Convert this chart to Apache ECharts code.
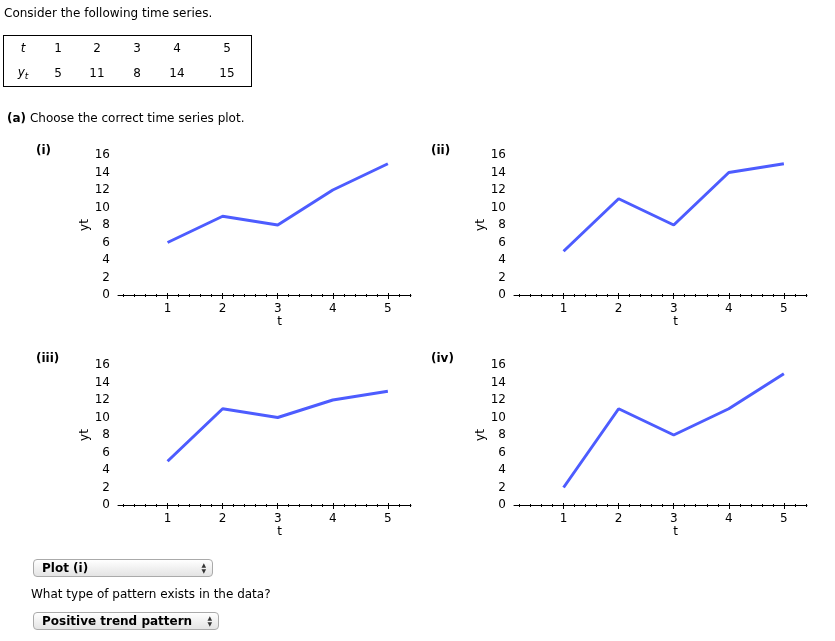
<!DOCTYPE html>
<html>
<head>
<meta charset="utf-8">
<script src="https://cdn.jsdelivr.net/npm/echarts@6/dist/echarts.min.js"></script>
<style>
html,body{margin:0;padding:0;background:#fff;}
body{width:835px;height:641px;position:relative;overflow:hidden;font-family:Verdana,"DejaVu Sans",sans-serif;font-size:12px;color:#000;}
#chart{position:absolute;left:0;top:0;width:835px;height:641px;}
.t{position:absolute;white-space:nowrap;line-height:14px;}
#tbl{position:absolute;left:3px;top:35px;width:247px;height:50px;border:1px solid #000;}
.cell{position:absolute;transform:translate(-50%,-50%);white-space:nowrap;font-size:12px;}
.sel{position:absolute;height:18px;border:1px solid #aaa;border-radius:4px;background:linear-gradient(#ffffff,#f1f1f1 50%,#e4e4e4);box-sizing:border-box;font-weight:bold;font-size:12px;line-height:16px;padding-left:8px;}
.arr{position:absolute;right:6px;top:2px;font-size:6px;line-height:6px;color:#333;}
</style>
</head>
<body>
<div id="chart"></div>
<div class="t" style="left:4px;top:6px;">Consider the following time series.</div>
<div id="tbl"></div>
<div class="t" style="left:7px;top:111px;"><b>(a)</b> Choose the correct time series plot.</div>
<div id="plabels"></div>
<div class="sel" style="left:33px;top:559px;width:180px;">Plot (i)<span class="arr">▲<br>▼</span></div>
<div class="t" style="left:31px;top:587px;">What type of pattern exists in the data?</div>
<div class="sel" style="left:33px;top:612px;width:186px;">Positive trend pattern<span class="arr">▲<br>▼</span></div>
<script>
// ---- data ----
const tValues = [1, 2, 3, 4, 5];
const ytValues = [5, 11, 8, 14, 15];
const plotNames = ['(i)', '(ii)', '(iii)', '(iv)'];
const plotI = [6, 9, 8, 12, 15];
const plotII = [5, 11, 8, 14, 15];
const plotIII = [5, 11, 10, 12, 13];
const plotIV = [2, 11, 8, 11, 15];
const majorTicks = [1, 2, 3, 4, 5];
const minorTicks = [0.2,0.4,0.6,0.8,1.2,1.4,1.6,1.8,2.2,2.4,2.6,2.8,3.2,3.4,3.6,3.8,4.2,4.4,4.6,4.8,5.2,5.4];

// ---- layout ----
const plotSeries = [plotI, plotII, plotIII, plotIV];
const gridLeft = [118, 514, 118, 514];
const gridTop = [155, 155, 365, 365];
const gridW = 293, gridH = 140;
const labelPos = [[36,143],[431,143],[36,351],[431,351]];
const colX = [58, 97, 137, 177, 227];

// table
const tbl = document.getElementById('tbl');
function addCell(html, x, y){
  const d = document.createElement('div');
  d.className = 'cell'; d.innerHTML = html;
  d.style.left = (x-4)+'px'; d.style.top = (y-36)+'px';
  tbl.appendChild(d);
}
addCell('<i>t</i>', 23, 48);
addCell('<i>y<sub style="font-size:9px">t</sub></i>', 23, 73);
tValues.forEach((v,i)=>addCell(String(v), colX[i], 48));
ytValues.forEach((v,i)=>addCell(String(v), colX[i], 73));

// plot labels
const pl = document.getElementById('plabels');
plotNames.forEach((n,i)=>{
  const d = document.createElement('div');
  d.className='t'; d.style.fontWeight='bold';
  d.style.left = labelPos[i][0]+'px'; d.style.top = labelPos[i][1]+'px';
  d.textContent = n; pl.appendChild(d);
});

const font = 'DejaVu Sans';
const grids = [], xAxes = [], yAxes = [], series = [];
plotSeries.forEach((vals, g) => {
  grids.push({left: gridLeft[g], top: gridTop[g], width: gridW, height: gridH, containLabel: false});
  const base = {gridIndex: g, type: 'value', min: 0.1, max: 5.42, position: 'bottom', offset: 0,
    splitLine: {show: false}, axisLine: {show: false, onZero: false}, axisLabel: {show: false}};
  xAxes.push(Object.assign({}, base, {
    axisLine: {show: true, onZero: false, lineStyle: {color: '#000', width: 1}},
    axisTick: {show: true, customValues: minorTicks, length: 2, inside: false, lineStyle: {color: '#000'}},
    axisLabel: {show: true, customValues: majorTicks, margin: 8, color: '#000', fontFamily: font, fontSize: 12},
    name: 't', nameLocation: 'middle', nameGap: 19,
    nameTextStyle: {color: '#000', fontFamily: font, fontSize: 12, padding: [0, 0, 0, 30]}
  }));
  xAxes.push(Object.assign({}, base, {
    axisTick: {show: true, customValues: minorTicks, length: 1, inside: true, lineStyle: {color: '#000'}}
  }));
  xAxes.push(Object.assign({}, base, {
    axisTick: {show: true, customValues: majorTicks, length: 4, inside: false, lineStyle: {color: '#000'}}
  }));
  xAxes.push(Object.assign({}, base, {
    axisTick: {show: true, customValues: majorTicks, length: 2, inside: true, lineStyle: {color: '#000'}}
  }));
  yAxes.push({gridIndex: g, type: 'value', min: 0, max: 16, interval: 2,
    axisLine: {show: false}, axisTick: {show: false}, splitLine: {show: false},
    axisLabel: {color: '#000', fontFamily: font, fontSize: 12, margin: 8, padding: [4, 0, 0, 0]},
    name: 'yt', nameLocation: 'middle', nameGap: 27, nameRotate: 90,
    nameTextStyle: {color: '#000', fontFamily: font, fontSize: 12}
  });
  series.push({type: 'line', xAxisIndex: g*4, yAxisIndex: g,
    data: tValues.map((t,i)=>[t, vals[i]]), symbol: 'none', silent: true,
    lineStyle: {color: '#4d5cff', width: 3}, animation: false});
});

const chart = echarts.init(document.getElementById('chart'), null, {renderer: 'canvas'});
chart.setOption({animation: false, grid: grids, xAxis: xAxes, yAxis: yAxes, series: series});
</script>
</body>
</html>
